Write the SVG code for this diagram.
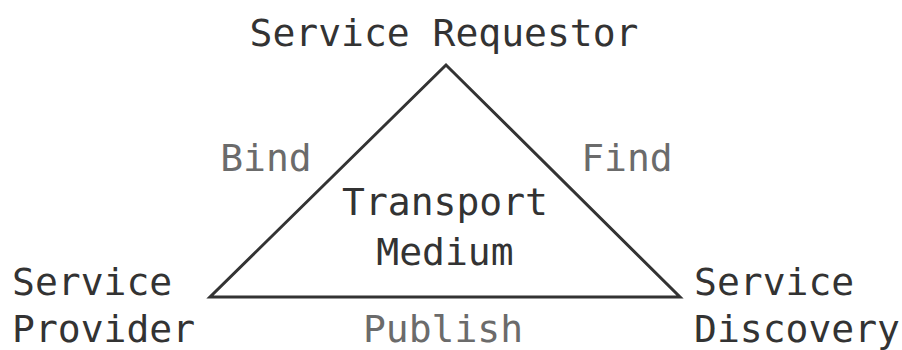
<svg xmlns="http://www.w3.org/2000/svg" width="902" height="350" viewBox="0 0 902 350">
  <style>
    text { font-family: "DejaVu Sans Mono", "Liberation Mono", monospace; font-size: 38px; }
    .node { fill: #333333; }
    .edge-label { fill: #6b6b6b; }
    .edge { fill: none; stroke: #333333; stroke-width: 3; stroke-linejoin: miter; }
  </style>
  <rect width="902" height="350" fill="#ffffff"/>

  <!-- connectors: the triangle joining the three roles -->
  <g id="connectors">
    <path class="edge" d="M446,65 L210,297 L680,297 Z"/>
  </g>

  <g id="requestor">
    <text class="node" x="444" y="46" text-anchor="middle">Service Requestor</text>
  </g>
  <g id="provider">
    <text class="node" x="12" y="295">Service</text>
    <text class="node" x="12" y="342">Provider</text>
  </g>
  <g id="discovery">
    <text class="node" x="694" y="295">Service</text>
    <text class="node" x="694" y="342">Discovery</text>
  </g>
  <g id="medium">
    <text class="node" x="445" y="215" text-anchor="middle">Transport</text>
    <text class="node" x="445" y="265" text-anchor="middle">Medium</text>
  </g>

  <g id="edge-labels">
    <text class="edge-label" x="266" y="171" text-anchor="middle">Bind</text>
    <text class="edge-label" x="627" y="171" text-anchor="middle">Find</text>
    <text class="edge-label" x="443" y="342" text-anchor="middle">Publish</text>
  </g>
</svg>
